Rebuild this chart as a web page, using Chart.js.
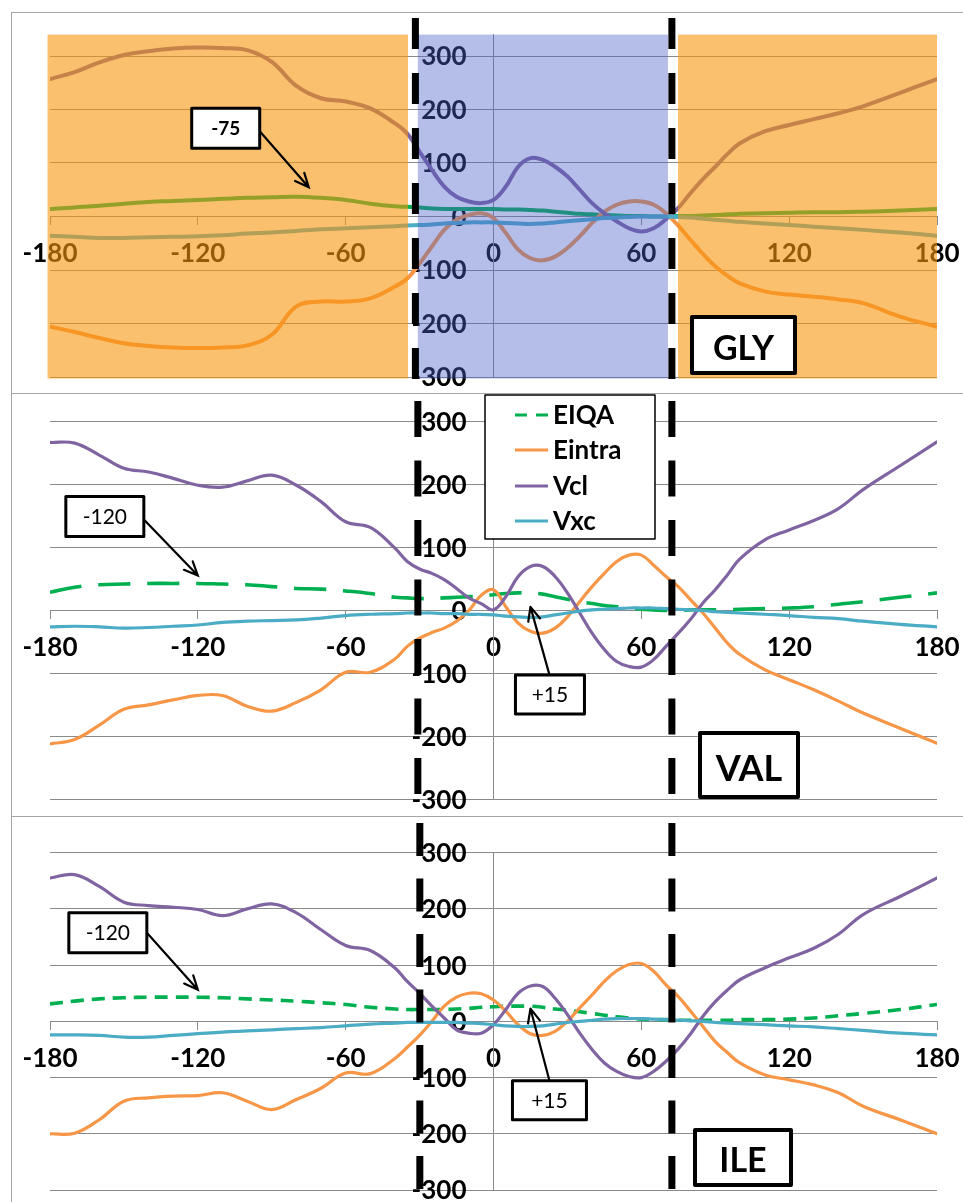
<!DOCTYPE html>
<html>
<head>
<meta charset="utf-8">
<script src="https://cdn.jsdelivr.net/npm/chart.js@4.4.1/dist/chart.umd.min.js"></script>
<style>
  html, body { margin: 0; padding: 0; background: #fff; }
  .panel { position: absolute; left: 11px; }
  .panel canvas { display: block; }
  .frame { position: absolute; left: 11px; top: 12px; width: 1000px; height: 1300px;
           border: 1px solid #a6a6a6; box-sizing: border-box; pointer-events: none; }
  .rule { position: absolute; left: 11px; width: 952px; height: 0; border-top: 1px solid #a6a6a6; }
</style>
</head>
<body>
<div class="panel" style="top:12px"><canvas id="gly" width="952" height="381"></canvas></div>
<div class="panel" style="top:393px"><canvas id="val" width="952" height="423"></canvas></div>
<div class="panel" style="top:816px"><canvas id="ile" width="952" height="386"></canvas></div>
<div class="frame"></div>
<div class="rule" style="top:393px"></div>
<div class="rule" style="top:816px"></div>
<script>
// Torsion angle grid (degrees) shared by every curve
const angles = [-180,-170,-160,-150,-140,-130,-120,-110,-100,-90,-80,-70,-60,-50,-40,
  -35,-30,-25,-20,-15,-10,-5,0,5,10,15,20,25,30,35,40,45,50,55,60,65,70,75,80,85,90,95,
  100,110,120,130,140,150,165,180];

// GLY energies (kcal/mol)
const glyEIQA = [14,17,20,24,27,29,31,33,35,36,37,35,31,24,19,
  18,17,15,14,14,14,14,14,13,13,12,11,9,7,5,4,3,2,1,1,0,0,1,1,2,3,4,
  5,6,7,8,8,9,11,14];
const glyEintra = [-206,-216,-227,-237,-242,-245,-246,-245,-241,-221,-168,-159,-159,-153,-131,
  -116,-88,-56,-25,-6,3,6,-3,-31,-62,-78,-82,-75,-59,-37,-12,9,22,28,28,22,6,-17,-44,-70,-93,-111,
  -125,-140,-146,-150,-155,-162,-187,-206];
const glyVcl = [257,270,288,302,309,314,316,315,311,289,244,221,215,202,174,
  155,121,87,56,37,28,25,31,56,93,109,106,93,75,50,25,6,-9,-22,-28,-22,-5,16,44,70,93,117,
  137,159,171,182,193,206,231,257];
const glyVxc = [-36,-38,-40,-40,-39,-38,-37,-35,-32,-30,-27,-24,-22,-20,-18,
  -17,-16,-15,-13,-12,-11,-11,-11,-12,-13,-14,-13,-11,-9,-7,-5,-3,-2,-1,0,0,0,-1,-2,-4,-6,-8,
  -10,-13,-16,-19,-22,-25,-30,-36];

// VAL energies
const valEIQA = [29,37,41,42,43,43,43,42,41,38,35,34,31,27,21,
  20,19,19,20,21,22,23,25,27,28,28,26,22,18,14,11,8,6,4,2,1,0,0,1,1,1,1,
  2,3,4,6,10,14,21,28];
const valEintra = [-212,-205,-182,-157,-150,-142,-135,-135,-152,-160,-146,-126,-98,-98,-77,
  -57,-44,-35,-28,-17,0,24,33,6,-20,-33,-36,-28,-10,14,38,59,78,88,88,72,54,38,17,-4,-28,-52,
  -70,-94,-110,-126,-144,-163,-187,-211];
const valVcl = [267,266,247,226,220,210,199,196,206,215,199,173,141,132,99,
  78,66,59,49,35,20,11,1,22,54,70,70,54,28,-4,-36,-62,-81,-89,-90,-78,-57,-36,-14,12,33,57,
  82,112,128,143,162,192,230,268];
const valVxc = [-26,-25,-26,-28,-27,-25,-23,-19,-17,-16,-15,-12,-8,-6,-5,
  -4,-4,-4,-5,-5,-6,-6,-7,-9,-10,-11,-10,-7,-4,-1,1,2,3,4,4,4,3,2,1,0,-2,-3,
  -4,-6,-8,-11,-13,-17,-22,-26];

// ILE energies
const ileEIQA = [31,36,40,42,43,43,43,42,40,38,36,33,30,25,22,
  21,21,21,21,22,23,25,26,27,27,27,25,22,20,17,14,11,8,6,4,3,3,2,2,2,2,2,
  3,3,4,6,10,14,21,30];
const ileEintra = [-200,-199,-175,-142,-136,-133,-132,-127,-142,-157,-139,-119,-92,-93,-66,
  -46,-25,0,27,43,50,49,38,18,-6,-22,-25,-18,0,24,47,71,90,101,103,89,65,44,18,-9,-36,-56,
  -74,-95,-104,-113,-127,-151,-175,-200];
const ileVcl = [255,261,240,212,206,203,199,188,200,209,193,163,135,126,95,
  71,50,27,6,-15,-21,-21,-6,21,50,63,62,41,12,-21,-50,-74,-89,-98,-100,-89,-71,-49,-22,9,35,56,
  74,95,113,130,155,190,222,255];
const ileVxc = [-24,-24,-25,-28,-28,-25,-22,-19,-17,-15,-13,-11,-8,-5,-3,
  -2,-2,-2,-2,-2,-3,-4,-6,-8,-9,-9,-8,-5,-2,0,2,4,5,5,5,4,3,2,1,0,-2,-3,
  -4,-6,-8,-10,-13,-16,-21,-24];

const seriesNames = ['EIQA', 'Eintra', 'Vcl', 'Vxc'];
const seriesColors = ['#00B050', '#F79646', '#8064A2', '#4BACC6'];
const residueNames = ['GLY', 'VAL', 'ILE'];
const xTickStep = 60;
const yTickStep = 100;

// Angles marked by the vertical dashed dividers in each panel
const glyDividers = [-31.7, 72.4];
const valDividers = [-30.7, 72.4];
const ileDividers = [-29.9, 72.4];

// Conformational regions shaded in the GLY panel
const glyRegionStarts = [-181, -30.7, 74.9];
const glyRegionEnds = [-34.7, 70.8, 180];

// Callout angles and their labels
const glyCalloutAngles = [-75];
const glyCalloutLabels = ['-75'];
const valCalloutAngles = [-120, 15];
const valCalloutLabels = ['-120', '+15'];
const ileCalloutAngles = [-120, 15];
const ileCalloutLabels = ['-120', '+15'];

const FONT = 'Lato, "Liberation Sans", sans-serif';
const GRID = '#8a8a8a';

function eiqaAt(eiqa, angle) {
  // linear read of the EIQA curve at a given angle (for pointing callouts)
  for (let i = 0; i < angles.length - 1; i++) {
    if (angle >= angles[i] && angle <= angles[i + 1]) {
      const t = (angle - angles[i]) / (angles[i + 1] - angles[i]);
      return eiqa[i] + t * (eiqa[i + 1] - eiqa[i]);
    }
  }
  return 0;
}

function drawArrow(ctx, x1, y1, x2, y2) {
  ctx.beginPath();
  ctx.moveTo(x1, y1); ctx.lineTo(x2, y2);
  const a = Math.atan2(y2 - y1, x2 - x1);
  const L = 15, w = 0.42;
  ctx.moveTo(x2 - L * Math.cos(a - w), y2 - L * Math.sin(a - w));
  ctx.lineTo(x2, y2);
  ctx.lineTo(x2 - L * Math.cos(a + w), y2 - L * Math.sin(a + w));
  ctx.stroke();
}

function boxedText(ctx, text, x, y, w, h, lw, font, dy) {
  ctx.fillStyle = '#fff';
  ctx.fillRect(x, y, w, h);
  ctx.lineWidth = lw;
  ctx.strokeStyle = '#000';
  ctx.lineJoin = 'round';
  ctx.strokeRect(x, y, w, h);
  ctx.fillStyle = '#000';
  ctx.font = font;
  ctx.textAlign = 'center';
  ctx.textBaseline = 'middle';
  ctx.fillText(text, x + w / 2, y + h / 2 + dy);
}

function makeDecor(cfg) {
  return {
    id: 'decor',
    beforeDatasetsDraw(chart) {
      // value labels of the energy axis, set to the left of the vertical axis
      const {ctx, scales: {x, y}} = chart;
      ctx.save();
      ctx.font = 'bold 26px ' + FONT;
      ctx.fillStyle = '#000';
      ctx.textAlign = 'right';
      ctx.textBaseline = 'middle';
      const xl = x.getPixelForValue(0) - 27;
      y.ticks.forEach(t => ctx.fillText(String(t.value), xl, y.getPixelForValue(t.value) + 1));
      ctx.restore();
    },
    afterDatasetsDraw(chart) {
      if (!cfg.regions) return;
      const {ctx, chartArea, scales: {x}} = chart;
      ctx.save();
      cfg.regions.forEach(r => {
        const x1 = x.getPixelForValue(r.from), x2 = x.getPixelForValue(r.to);
        ctx.fillStyle = r.color;
        ctx.fillRect(x1, chartArea.top, x2 - x1, chartArea.bottom - chartArea.top + 1.5);
      });
      ctx.restore();
    },
    afterDraw(chart) {
      const {ctx, scales: {x, y}} = chart;
      const H = chart.height;
      ctx.save();
      // dashed dividers
      ctx.strokeStyle = '#000';
      ctx.lineWidth = 7;
      ctx.lineCap = 'butt';
      ctx.setLineDash([cfg.dash.on, cfg.dash.off]);
      cfg.dividers.forEach(a => {
        const px = x.getPixelForValue(a);
        ctx.beginPath();
        ctx.moveTo(px, cfg.dash.start);
        ctx.lineTo(px, H);
        ctx.stroke();
      });
      ctx.setLineDash([]);
      // callouts pointing at the EIQA curve
      cfg.callouts.forEach(c => {
        const tx = x.getPixelForValue(c.angle);
        const ty = y.getPixelForValue(eiqaAt(cfg.eiqa, c.angle)) + c.tipDy;
        ctx.strokeStyle = '#000';
        ctx.lineWidth = 2.2;
        ctx.lineCap = 'round';
        drawArrow(ctx, tx + c.from[0], ty + c.from[1], tx, ty);
        boxedText(ctx, c.text, tx + c.box[0], ty + c.box[1], c.box[2], c.box[3], 3, c.font, 1);
      });
      // residue tag
      const t = cfg.tag;
      boxedText(ctx, t.text, t.x, t.y, t.w, t.h, 4, 'bold ' + t.size + 'px ' + FONT, 4);
      // legend
      if (cfg.legend) {
        const L = cfg.legend;
        ctx.fillStyle = '#fff';
        ctx.fillRect(L.x, L.y, L.w, L.h);
        ctx.lineWidth = 1.5;
        ctx.strokeStyle = '#000';
        ctx.strokeRect(L.x, L.y, L.w, L.h);
        chart.data.datasets.forEach((ds, i) => {
          const ry = L.rows[i];
          ctx.strokeStyle = ds.borderColor;
          ctx.lineWidth = 3;
          ctx.lineCap = 'butt';
          ctx.setLineDash(i === 0 ? [12, 9] : []);
          ctx.beginPath();
          ctx.moveTo(L.lineX[0], ry);
          ctx.lineTo(L.lineX[1], ry);
          ctx.stroke();
          ctx.setLineDash([]);
          ctx.fillStyle = '#000';
          ctx.font = 'bold 26px ' + FONT;
          ctx.textAlign = 'left';
          ctx.textBaseline = 'middle';
          ctx.fillText(ds.label, L.textX, ry + 1);
        });
      }
      ctx.restore();
    }
  };
}

function makePanel(id, series, opts) {
  const datasets = series.map((vals, i) => ({
    label: seriesNames[i],
    data: angles.map((a, k) => ({x: a, y: vals[k]})),
    borderColor: seriesColors[i],
    borderWidth: i === 0 && opts.eiqaDash ? opts.dashWidth : opts.lineWidth,
    borderDash: i === 0 && opts.eiqaDash ? opts.eiqaDash : [],
    borderCapStyle: i === 0 && opts.eiqaDash ? 'butt' : 'round',
    pointRadius: 0,
    tension: 0.4,
    fill: false,
    order: 4 - i
  }));
  return new Chart(document.getElementById(id), {
    type: 'line',
    data: {datasets},
    options: {
      responsive: false,
      animation: false,
      devicePixelRatio: 1,
      layout: {padding: opts.padding, autoPadding: false},
      plugins: {legend: {display: false}, tooltip: {enabled: false}},
      scales: {
        x: {
          type: 'linear', min: -180, max: 180,
          position: {y: 0},
          afterFit: s => { s.paddingLeft = 0; s.paddingRight = 0; },
          ticks: {stepSize: xTickStep, autoSkip: false, maxRotation: 0, padding: 14,
                  color: '#000', font: {family: FONT, size: 26, weight: 'bold'}},
          grid: {drawOnChartArea: false, drawTicks: true, tickLength: 8, color: GRID},
          border: {display: true, color: GRID, width: 1}
        },
        y: {
          type: 'linear', min: -300, max: opts.yMax,
          position: {x: 0},
          afterBuildTicks: s => { s.ticks = s.ticks.filter(t => t.value % yTickStep === 0); },
          ticks: {stepSize: yTickStep, display: false},
          grid: {color: GRID, drawTicks: false, lineWidth: 1},
          border: {display: true, color: GRID, width: 1}
        }
      }
    },
    plugins: [makeDecor(opts.decor)]
  });
}

const ORANGE = 'rgba(247,150,13,0.6)';
const BLUE = 'rgba(76,98,200,0.41)';

makePanel('gly', [glyEIQA, glyEintra, glyVcl, glyVxc], {
  yMax: 340, lineWidth: 4,
  padding: {left: 39, right: 26, top: 22.6, bottom: 16},
  decor: {
    eiqa: glyEIQA,
    regions: glyRegionStarts.map((s, i) => ({from: s, to: glyRegionEnds[i], color: i === 1 ? BLUE : ORANGE})),
    dividers: glyDividers,
    dash: {start: 6, on: 31, off: 24},
    callouts: [{text: glyCalloutLabels[0], angle: glyCalloutAngles[0], tipDy: -10,
                box: [-117, -79, 68, 40], from: [-49, -56], font: 'bold 19px ' + FONT}],
    tag: {text: residueNames[0], x: 681, y: 305, w: 103, h: 56, size: 34}
  }
});

makePanel('val', [valEIQA, valEintra, valVcl, valVxc], {
  yMax: 300, lineWidth: 3.2, dashWidth: 3.6, eiqaDash: [32, 17],
  padding: {left: 39, right: 26, top: 28.7, bottom: 16.7},
  decor: {
    eiqa: valEIQA,
    dividers: valDividers,
    dash: {start: 8, on: 36, off: 23.5},
    callouts: [
      {text: valCalloutLabels[0], angle: valCalloutAngles[0], tipDy: -8,
       box: [-132, -79, 78, 40], from: [-54, -56], font: '21px ' + FONT},
      {text: valCalloutLabels[1], angle: valCalloutAngles[1], tipDy: 14,
       box: [-15, 68, 69, 39], from: [19, 68], font: '21px ' + FONT}
    ],
    tag: {text: residueNames[1], x: 689, y: 340, w: 98, h: 64, size: 36},
    legend: {x: 474, y: 2, w: 170, h: 144, rows: [22, 57, 93, 128], lineX: [504, 537], textX: 542}
  }
});

makePanel('ile', [ileEIQA, ileEintra, ileVcl, ileVxc], {
  yMax: 300, lineWidth: 3.2, dashWidth: 3.6, eiqaDash: [13, 8],
  padding: {left: 39, right: 26, top: 36.7, bottom: 12},
  decor: {
    eiqa: ileEIQA,
    dividers: ileDividers,
    dash: {start: 7, on: 33, off: 22.5},
    callouts: [
      {text: ileCalloutLabels[0], angle: ileCalloutAngles[0], tipDy: -7.5,
       box: [-129, -77, 78, 40], from: [-51, -57], font: '21px ' + FONT},
      {text: ileCalloutLabels[1], angle: ileCalloutAngles[1], tipDy: 2.5,
       box: [-18, 72, 74, 39], from: [19, 72], font: '21px ' + FONT}
    ],
    tag: {text: residueNames[2], x: 684, y: 314, w: 96, h: 55, size: 34}
  }
});
</script>
</body>
</html>
